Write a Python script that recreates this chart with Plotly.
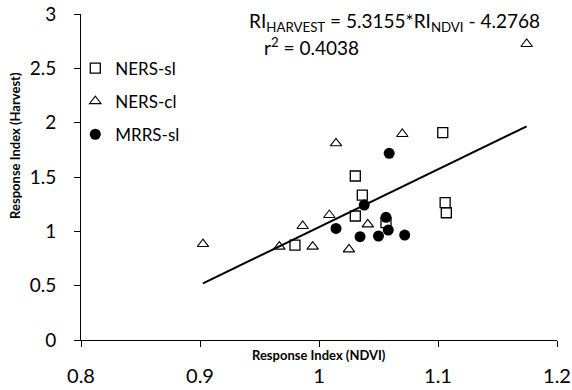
import plotly.graph_objects as go

# NERS-sl (open squares)
ners_sl_x = [1.104, 1.0305, 1.0364, 1.106, 1.107, 1.0305, 1.0563, 0.9798]
ners_sl_y = [1.908, 1.509, 1.334, 1.264, 1.171, 1.141, 1.080, 0.874]
# NERS-cl (open triangles)
ners_cl_x = [1.070, 1.0143, 1.0087, 1.041, 0.9863, 0.9667, 0.9947, 1.0252, 1.1745, 0.9025]
ners_cl_y = [1.896, 1.810, 1.150, 1.064, 1.049, 0.859, 0.859, 0.834, 2.724, 0.883]
# MRRS-sl (filled circles)
mrrs_sl_x = [1.059, 1.038, 1.0563, 1.0582, 1.0143, 1.0345, 1.050, 1.072]
mrrs_sl_y = [1.718, 1.242, 1.129, 1.012, 1.027, 0.951, 0.957, 0.966]

slope = 5.3155
intercept = -4.2768
x_ticks = [0.8, 0.9, 1.0, 1.1, 1.2]
x_tick_text = ["0.8", "0.9", "1", "1.1", "1.2"]
y_ticks = [0, 0.5, 1, 1.5, 2, 2.5, 3]
y_tick_text = ["0", "0.5", "1", "1.5", "2", "2.5", "3"]

FONT = "Lato, 'Open Sans', sans-serif"

all_x = ners_sl_x + ners_cl_x + mrrs_sl_x
fit_x = [min(all_x), max(all_x)]
fit_y = [slope * v + intercept for v in fit_x]

fig = go.Figure()
fig.add_trace(go.Scatter(x=fit_x, y=fit_y, mode="lines", line=dict(color="black", width=2),
                         showlegend=False, hoverinfo="skip"))
fig.add_trace(go.Scatter(x=ners_sl_x, y=ners_sl_y, mode="markers", name="NERS-sl", legendgroup="a",
                         marker=dict(symbol="square-open", size=10, color="black", line=dict(width=1.3))))
fig.add_trace(go.Scatter(x=ners_cl_x, y=ners_cl_y, mode="markers", name="NERS-cl", legendgroup="b",
                         marker=dict(symbol="triangle-up-open", size=10, color="black", line=dict(width=1.1))))
fig.add_trace(go.Scatter(x=mrrs_sl_x, y=mrrs_sl_y, mode="markers", name="MRRS-sl", legendgroup="c",
                         marker=dict(symbol="circle", size=11, color="black")))

fig.update_layout(
    width=572, height=390,
    margin=dict(l=81, r=15, t=14, b=50),
    paper_bgcolor="white", plot_bgcolor="white",
    font=dict(family=FONT, color="black", size=18),
    legend=dict(x=-0.012, y=0.888, xanchor="left", yanchor="top", bgcolor="rgba(0,0,0,0)",
                font=dict(size=17), tracegroupgap=8, itemwidth=30),
    xaxis=dict(range=[0.8, 1.2], tickvals=x_ticks, ticktext=x_tick_text, ticks="outside", ticklen=6,
               tickcolor="black", showline=True, linecolor="black", linewidth=1, showgrid=False,
               zeroline=False, ticklabelstandoff=12, tickfont=dict(size=20), automargin=False),
    yaxis=dict(range=[0, 3], tickvals=y_ticks, ticktext=y_tick_text, ticks="outside", ticklen=6,
               tickcolor="black", showline=True, linecolor="black", linewidth=1, showgrid=False,
               zeroline=False, ticklabelstandoff=14, tickfont=dict(size=19), automargin=False),
    annotations=[
        dict(text="<b>Response Index (NDVI)</b>", xref="paper", yref="paper", x=0.5, y=-0.046,
             showarrow=False, font=dict(size=13), xanchor="center", yanchor="middle"),
        dict(text="<b>Response Index (Harvest)</b>", xref="paper", yref="paper", x=-0.139, y=0.598,
             showarrow=False, font=dict(size=13), textangle=-90, xanchor="center", yanchor="middle"),
        dict(text="RI<sub>HARVEST</sub> = 5.3155*RI<sub>NDVI</sub> - 4.2768", xref="paper", yref="paper",
             x=0.349, y=0.975, showarrow=False, font=dict(size=19), xanchor="left", yanchor="middle"),
        dict(text="r<sup>2</sup> = 0.4038", xref="paper", yref="paper",
             x=0.380, y=0.899, showarrow=False, font=dict(size=19), xanchor="left", yanchor="middle"),
    ],
)
fig.write_html("out.html", config={"displayModeBar": False},
               post_script="document.body.style.margin='0';")
